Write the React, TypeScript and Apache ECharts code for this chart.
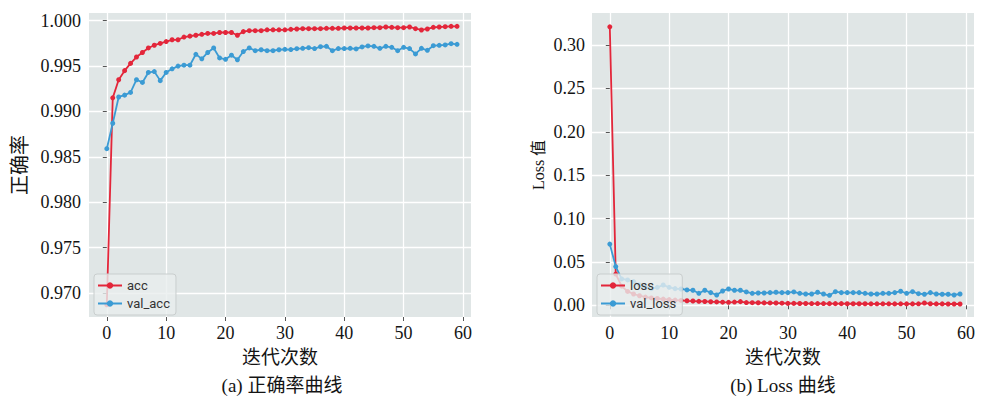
import React, { useEffect, useRef } from "react";
import * as echarts from "echarts";

const epochs = [
  0, 1, 2, 3, 4, 5, 6, 7, 8, 9, 10, 11, 12, 13, 14, 15, 16, 17, 18, 19,
  20, 21, 22, 23, 24, 25, 26, 27, 28, 29, 30, 31, 32, 33, 34, 35, 36, 37, 38, 39,
  40, 41, 42, 43, 44, 45, 46, 47, 48, 49, 50, 51, 52, 53, 54, 55, 56, 57, 58, 59,
];

const acc = [
  0.9687, 0.9915, 0.9935, 0.9945, 0.9953, 0.996, 0.9965, 0.997, 0.9973, 0.9975,
  0.9977, 0.9979, 0.9979, 0.9982, 0.9983, 0.9984, 0.9985, 0.9986, 0.9986, 0.9987,
  0.9987, 0.9987, 0.9984, 0.9988, 0.9989, 0.9989, 0.9989, 0.999, 0.999, 0.999,
  0.999, 0.99905, 0.99909, 0.99912, 0.99912, 0.99912, 0.99912, 0.99916, 0.99916, 0.99916,
  0.9992, 0.9992, 0.9992, 0.9992, 0.9992, 0.99923, 0.99923, 0.99931, 0.99927, 0.99923,
  0.99923, 0.99931, 0.99912, 0.99898, 0.99909, 0.99927, 0.99931, 0.99934, 0.99938, 0.99938,
];

const valAcc = [
  0.9859, 0.9887, 0.9916, 0.9918, 0.9921, 0.9935, 0.9932, 0.9943, 0.9944, 0.9934,
  0.9943, 0.9947, 0.995, 0.9951, 0.9951, 0.9963, 0.9958, 0.9965, 0.997, 0.9959,
  0.99575, 0.9962, 0.9957, 0.9966, 0.997, 0.9967, 0.9968, 0.9967, 0.9967, 0.9968,
  0.99685, 0.99682, 0.99692, 0.99696, 0.99703, 0.99693, 0.99714, 0.99718, 0.9967, 0.99693,
  0.99693, 0.99696, 0.99689, 0.99711, 0.99722, 0.99718, 0.99696, 0.99718, 0.99707, 0.9967,
  0.99707, 0.99693, 0.99634, 0.99696, 0.99674, 0.99725, 0.99729, 0.99733, 0.99747, 0.9974,
];

const loss = [
  0.321, 0.036, 0.022, 0.016, 0.013, 0.011, 0.0095, 0.0085, 0.0078, 0.0072,
  0.0065, 0.006, 0.0056, 0.0052, 0.0049, 0.0046, 0.0044, 0.0041, 0.0039, 0.0036,
  0.0034, 0.0037, 0.0042, 0.0031, 0.003, 0.0029, 0.0028, 0.0027, 0.0026, 0.0024,
  0.0022, 0.0022, 0.0021, 0.0021, 0.002, 0.002, 0.002, 0.0019, 0.0019, 0.0019,
  0.0018, 0.0018, 0.0018, 0.0018, 0.0017, 0.0017, 0.0017, 0.0017, 0.0016, 0.0017,
  0.0016, 0.0016, 0.0017, 0.0026, 0.0018, 0.0016, 0.0016, 0.0015, 0.0015, 0.0015,
];

const valLoss = [
  0.0705, 0.0446, 0.0304, 0.0292, 0.0273, 0.0234, 0.0205, 0.0192, 0.0207, 0.0234,
  0.0207, 0.0192, 0.0188, 0.0177, 0.0173, 0.0138, 0.0173, 0.0146, 0.0119, 0.0165,
  0.0188, 0.0173, 0.0173, 0.0154, 0.0138, 0.0142, 0.0142, 0.0146, 0.015, 0.0146,
  0.0146, 0.0154, 0.0138, 0.013, 0.013, 0.015, 0.013, 0.0115, 0.0157, 0.0146,
  0.0146, 0.0146, 0.0146, 0.0138, 0.013, 0.013, 0.0138, 0.0138, 0.0146, 0.0162,
  0.0138, 0.0157, 0.0134, 0.0127, 0.0146, 0.013, 0.0127, 0.0127, 0.0119, 0.013,
];

const xTicks = [0, 10, 20, 30, 40, 50, 60];
const accTicks = [0.97, 0.975, 0.98, 0.985, 0.99, 0.995, 1.0];
const lossTicks = [0, 0.05, 0.1, 0.15, 0.2, 0.25, 0.3];

const xName = "迭代次数";
const accName = "正确率";
const lossName = "Loss 值";
const captionA = "(a) 正确率曲线";
const captionB = "(b) Loss 曲线";

const RED = "#e3263a";
const BLUE = "#3b9bd4";
const BG = "#e0e6e6";
const SERIF = "'Liberation Serif', 'Noto Sans CJK SC', serif";
const TXT = "#141414";

export default function App() {
  const ref = useRef<HTMLDivElement>(null);

  useEffect(() => {
    const chart = echarts.init(ref.current!, null, { renderer: "svg" });
    const pair = (ys: number[]) => epochs.map((x, i) => [x, ys[i]]);

    const xAxis = (gridIndex: number) => ({
      type: "value",
      gridIndex,
      min: -3,
      max: 61.35,
      name: xName,
      nameLocation: "middle",
      nameGap: 31,
      nameTextStyle: { fontFamily: SERIF, fontSize: 19, color: TXT },
      axisLine: { show: false },
      axisTick: {
        show: true,
        length: 4,
        lineStyle: { color: "#555", width: 1 },
        customValues: xTicks,
      },
      axisLabel: {
        customValues: xTicks,
        fontFamily: "Liberation Serif",
        fontSize: 18,
        color: TXT,
        margin: 7,
      },
      splitLine: { show: true, lineStyle: { color: "#ffffff", width: 1.3 } },
    });

    const yAxis = (
      gridIndex: number,
      min: number,
      max: number,
      ticks: number[],
      digits: number,
      name: string,
      nameSize: number,
      nameGap: number,
      margin: number
    ) => ({
      type: "value",
      gridIndex,
      min,
      max,
      name,
      nameLocation: "middle",
      nameGap,
      nameTextStyle: { fontFamily: SERIF, fontSize: nameSize, color: TXT },
      axisLine: { show: false },
      axisTick: {
        show: true,
        length: 4,
        lineStyle: { color: "#555", width: 1 },
        customValues: ticks,
      },
      axisLabel: {
        customValues: ticks,
        fontFamily: "Liberation Serif",
        fontSize: 18,
        color: TXT,
        margin: margin,
        formatter: (v: number) => v.toFixed(digits),
      },
      splitLine: { show: true, lineStyle: { color: "#ffffff", width: 1.3 } },
    });

    const line = (
      name: string,
      data: number[],
      color: string,
      idx: number
    ) => ({
      type: "line",
      name,
      xAxisIndex: idx,
      yAxisIndex: idx,
      data: pair(data),
      symbol: "circle",
      symbolSize: 5,
      showSymbol: true,
      color,
      itemStyle: { color },
      lineStyle: { color, width: 1.8 },
      emphasis: { disabled: true },
    });

    const legendBase = {
      orient: "vertical",
      itemWidth: 24,
      itemHeight: 8,
      itemGap: 3,
      padding: [4, 6, 4, 3],
      backgroundColor: "rgba(232,237,237,0.8)",
      borderColor: "#c9cece",
      borderWidth: 1,
      borderRadius: 3,
      textStyle: {
        fontFamily: "Roboto, 'DejaVu Sans', sans-serif",
        fontSize: 13,
        color: "#333",
        lineHeight: 15,
      },
    };

    chart.setOption({
      animation: false,
      backgroundColor: "#ffffff",
      grid: [
        {
          left: 89,
          top: 13,
          width: 382,
          height: 304,
          show: true,
          backgroundColor: BG,
          borderWidth: 0,
        },
        {
          left: 592,
          top: 13,
          width: 382,
          height: 304,
          show: true,
          backgroundColor: BG,
          borderWidth: 0,
        },
      ],
      xAxis: [xAxis(0), xAxis(1)],
      yAxis: [
        yAxis(0, 0.96736, 1.00085, accTicks, 3, accName, 20, 59, 8),
        yAxis(1, -0.0135, 0.3369, lossTicks, 2, lossName, 16, 46, 7),
      ],
      legend: [
        { ...legendBase, data: ["acc", "val_acc"], left: 94, top: 274 },
        { ...legendBase, data: ["loss", "val_loss"], left: 597, top: 274 },
      ],
      series: [
        line("acc", acc, RED, 0),
        line("val_acc", valAcc, BLUE, 0),
        line("loss", loss, RED, 1),
        line("val_loss", valLoss, BLUE, 1),
      ],
      graphic: [
        {
          type: "text",
          x: 282,
          y: 385,
          style: {
            text: captionA,
            fontFamily: SERIF,
            fontSize: 19,
            fill: TXT,
            align: "center",
            verticalAlign: "middle",
          },
        },
        {
          type: "text",
          x: 783,
          y: 385,
          style: {
            text: captionB,
            fontFamily: SERIF,
            fontSize: 19,
            fill: TXT,
            align: "center",
            verticalAlign: "middle",
          },
        },
      ],
    });

    return () => chart.dispose();
  }, []);

  return (
    <div
      ref={ref}
      style={{ position: "absolute", left: 0, top: 0, width: 1000, height: 398 }}
    />
  );
}
